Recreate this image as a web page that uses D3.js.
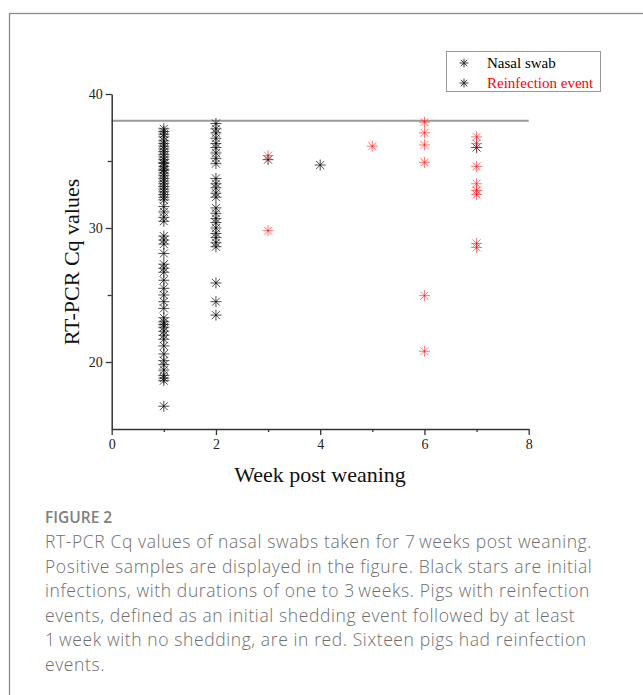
<!DOCTYPE html>
<html>
<head>
<meta charset="utf-8">
<script src="https://cdn.jsdelivr.net/npm/d3@7"></script>
<style>
  html, body { margin: 0; padding: 0; background: #fff; }
  svg { display: block; }
</style>
</head>
<body>
<svg id="chart" width="643" height="695"></svg>
<script>
// Week of sampling and RT-PCR Cq for initial infections (black)
const initialWeek = [
  1,1,1,1,1,1,1,1,1,1,1,1,1,1,1,1,1,1,1,1,1,1,1,1,1,1,1,1,1,1,
  1,1,1,1,1,1,1,1,1,1,1,1,1,1,1,1,1,1,1,1,1,1,1,1,1,1,1,1,1,1,
  2,2,2,2,2,2,2,2,2,2,2,2,2,2,2,2,2,2,2,2,2,2,2,2,2,2,
  3,4,7
];
const initialCq = [
  37.4,37.2,37.0,36.8,36.5,36.3,36.1,35.9,35.7,35.5,35.3,35.1,34.9,34.8,34.6,
  34.4,34.3,34.1,33.9,33.7,33.5,33.3,33.1,32.9,32.7,32.5,32.3,32.1,31.6,31.2,
  30.8,30.5,29.4,29.1,28.8,28.1,27.3,27.0,26.7,26.1,25.5,25.0,24.5,24.0,23.3,
  23.0,22.8,22.6,22.3,22.0,21.7,21.2,20.6,20.1,19.8,19.4,19.0,18.8,18.6,16.7,
  37.8,37.4,37.1,36.7,36.3,36.0,35.6,35.2,34.8,
  33.7,33.3,33.0,32.6,32.3,
  31.5,31.1,30.7,30.4,30.0,29.6,29.3,28.9,28.6,
  25.9,24.5,23.5,
  35.1,34.7,36.0
];

// Week of sampling and RT-PCR Cq for reinfection events (red)
const reinfectionWeek = [3,3,5,6,6,6,6,6,6,7,7,7,7,7,7,7,7];
const reinfectionCq = [35.4,29.8,36.1,37.9,37.1,36.2,34.9,24.95,20.8,36.8,36.3,34.6,33.3,32.8,32.5,28.85,28.55];

// Axis ticks and threshold
const xMajorTicks = [0,2,4,6,8];
const xMinorTicks = [1,3,5,7];
const yMajorTicks = [20,30,40];
const yMinorTicks = [25,35];
const cutoffCq = 38;

const legendLabels = ["Nasal swab", "Reinfection event"];
const captionTitle = "FIGURE 2";
const captionLines = [
  "RT-PCR Cq values of nasal swabs taken for 7\u2009weeks post weaning.",
  "Positive samples are displayed in the figure. Black stars are initial",
  "infections, with durations of one to 3\u2009weeks. Pigs with reinfection",
  "events, defined as an initial shedding event followed by at least",
  "1\u2009week with no shedding, are in red. Sixteen pigs had reinfection",
  "events."
];

const svg = d3.select("#chart");
const serif = "'Liberation Serif', 'Times New Roman', serif";
const sans = "'Open Sans', 'Noto Sans', sans-serif";

// Figure frame
svg.append("rect")
  .attr("x", 9.5).attr("y", 13.5)
  .attr("width", 700).attr("height", 700)
  .attr("fill", "none").attr("stroke", "#8a8a8a").attr("stroke-width", 1.3);

const x = d3.scaleLinear().domain([0, 8]).range([111.7, 528.7]);
const y = d3.scaleLinear().domain([15, 40]).range([429, 94]);

// Cq cutoff line
svg.append("line")
  .attr("x1", x(0)).attr("x2", x(8))
  .attr("y1", y(cutoffCq)).attr("y2", y(cutoffCq))
  .attr("stroke", "#9a9a9a").attr("stroke-width", 2);

function styleAxis(g) {
  g.select(".domain").attr("stroke", "#333").attr("stroke-width", 1.5);
  g.selectAll(".tick line").attr("stroke", "#333").attr("stroke-width", 1.3);
  g.selectAll(".tick text").attr("fill", "#222")
    .style("font-family", serif).style("font-size", "14px");
}

// x axis
const gx = svg.append("g").attr("transform", `translate(0,${y(15)})`);
gx.call(d3.axisBottom(x).tickValues(xMajorTicks).tickSize(6).tickSizeOuter(0).tickPadding(4).tickFormat(d3.format("d")));
styleAxis(gx);
const gxm = svg.append("g").attr("transform", `translate(0,${y(15)})`);
gxm.call(d3.axisBottom(x).tickValues(xMinorTicks).tickSize(3).tickSizeOuter(0).tickFormat(""));
styleAxis(gxm);
gxm.select(".domain").remove();

// y axis
const gy = svg.append("g").attr("transform", `translate(${x(0)},0)`);
gy.call(d3.axisLeft(y).tickValues(yMajorTicks).tickSize(6).tickSizeOuter(0).tickPadding(3).tickFormat(d3.format("d")));
styleAxis(gy);
const gym = svg.append("g").attr("transform", `translate(${x(0)},0)`);
gym.call(d3.axisLeft(y).tickValues(yMinorTicks).tickSize(4).tickSizeOuter(0).tickFormat(""));
styleAxis(gym);
gym.select(".domain").remove();

// Axis titles
svg.append("text")
  .attr("x", 320).attr("y", 482)
  .attr("text-anchor", "middle")
  .style("font-family", serif).style("font-size", "22px").attr("fill", "#111")
  .text("Week post weaning");
svg.append("text")
  .attr("transform", "translate(79,262) rotate(-90)")
  .attr("text-anchor", "middle")
  .style("font-family", serif).style("font-size", "22px").attr("fill", "#111")
  .text("RT-PCR Cq values");

// Asterisk marker built from four separate strokes so overlaps darken
const R = 5.5, D = 4;
const arms = [[-R,0,R,0],[0,-R,0,R],[-D,-D,D,D],[-D,D,D,-D]];
function drawStars(parent, cx, cy, color, opacity) {
  const g = parent.append("g").attr("transform", `translate(${cx},${cy})`);
  g.selectAll("line").data(arms).join("line")
    .attr("x1", a => a[0]).attr("y1", a => a[1])
    .attr("x2", a => a[2]).attr("y2", a => a[3])
    .attr("stroke", color).attr("stroke-opacity", opacity).attr("stroke-width", 1);
}

const pts = svg.append("g");
initialWeek.forEach((w, i) => drawStars(pts, x(w), y(initialCq[i]), "#000", 0.7));
reinfectionWeek.forEach((w, i) => drawStars(pts, x(w), y(reinfectionCq[i]), "#ff0000", 0.55));

// Legend
const lg = svg.append("g");
lg.append("rect")
  .attr("x", 446.5).attr("y", 51.5).attr("width", 154).attr("height", 40)
  .attr("fill", "#fff").attr("stroke", "#999").attr("stroke-width", 1);
const legendColors = ["#000", "#ff0000"];
legendLabels.forEach((label, i) => {
  const ly = 63 + i * 20;
  const s = lg.append("g").attr("transform", `translate(464,${ly})`);
  s.selectAll("line").data(arms).join("line")
    .attr("x1", a => a[0] * 0.8).attr("y1", a => a[1] * 0.8)
    .attr("x2", a => a[2] * 0.8).attr("y2", a => a[3] * 0.8)
    .attr("stroke", "#333").attr("stroke-width", 1);
  lg.append("text")
    .attr("x", 487).attr("y", ly + 5)
    .style("font-family", serif).style("font-size", "15px")
    .attr("fill", legendColors[i])
    .text(label);
});

// Caption
svg.append("text")
  .attr("x", 45).attr("y", 523)
  .style("font-family", sans).style("font-size", "15.5px").style("font-weight", 600)
  .attr("fill", "#808080")
  .text(captionTitle);
const cap = svg.append("text")
  .style("font-family", sans).style("font-size", "17.5px").style("font-weight", 300)
  .style("letter-spacing", "0.6px")
  .attr("fill", "#6e6e6e");
captionLines.forEach((line, i) => {
  cap.append("tspan").attr("x", 45).attr("y", 548 + i * 24.5).text(line);
});
</script>
</body>
</html>
